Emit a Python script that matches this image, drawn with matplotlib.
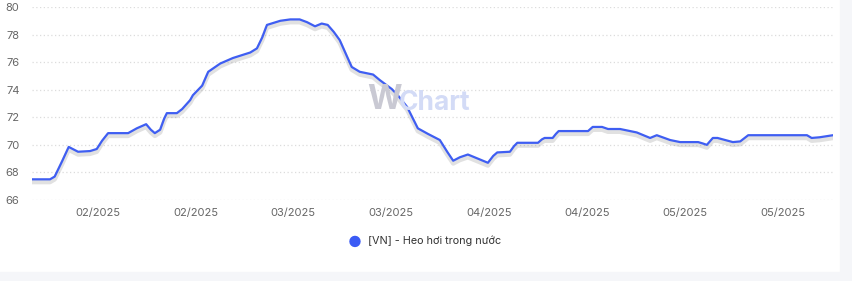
import matplotlib
matplotlib.use("Agg")
import matplotlib.pyplot as plt
import matplotlib.patheffects as pe
from matplotlib.patches import Rectangle

# Gia heo hoi (VN), x = day index
days = [0, 2.7, 3.4, 4.5, 5.5, 6.1, 6.9, 8.7, 9.7, 10.5, 11.4, 14.4, 15.7, 17.1, 17.8,
        18.4, 19.2, 19.8, 20.2, 21.7, 22.5, 23.7, 24.1, 25.5, 26.4, 28.2, 30.1, 32.7,
        33.7, 34.5, 35.2, 37.2, 38.7, 40.1, 41.2, 42.4, 43.4, 44.3, 45.2, 46.1, 47.2,
        47.9, 49.1, 51.1, 52.1, 53.9, 54.8, 56.2, 57.8, 59.3, 61.1, 62.2, 63.1, 64.1,
        65.3, 66.8, 68.3, 69.1, 69.7, 71.6, 72.2, 72.7, 75.8, 76.4, 76.8, 78.0, 78.5,
        78.9, 83.3, 84.0, 85.4, 86.3, 88.1, 90.6, 92.6, 93.6, 95.6, 97.1, 99.8, 100.5,
        101.1, 102.0, 102.7, 105.0, 106.1, 107.3, 116.1, 116.8, 118.0, 120.0]
prices = [67.5, 67.5, 67.7, 68.8, 69.85, 69.7, 69.5, 69.55, 69.7, 70.3, 70.85, 70.85,
          71.2, 71.5, 71.1, 70.85, 71.1, 71.9, 72.3, 72.3, 72.6, 73.25, 73.6, 74.3,
          75.3, 75.9, 76.3, 76.7, 77.0, 77.8, 78.7, 79.0, 79.1, 79.1, 78.9, 78.6, 78.8,
          78.7, 78.2, 77.6, 76.4, 75.65, 75.3, 75.1, 74.7, 74.05, 73.6, 72.75, 71.2,
          70.8, 70.35, 69.5, 68.85, 69.1, 69.3, 69.0, 68.7, 69.2, 69.45, 69.5, 69.9,
          70.15, 70.15, 70.4, 70.5, 70.5, 70.8, 71.0, 71.0, 71.3, 71.3, 71.15, 71.15,
          70.9, 70.5, 70.7, 70.35, 70.2, 70.2, 70.1, 70.0, 70.5, 70.5, 70.2, 70.25,
          70.7, 70.7, 70.5, 70.55, 70.7]

tick_pos = [9.9, 24.6, 39.1, 53.8, 68.5, 83.1, 97.8, 112.5]
tick_labels = ["02/2025", "02/2025", "03/2025", "03/2025",
               "04/2025", "04/2025", "05/2025", "05/2025"]
y_ticks = [66, 68, 70, 72, 74, 76, 78, 80]

plt.rcParams['font.family'] = ['Inter', 'DejaVu Sans']

fig = plt.figure(figsize=(8.52, 2.81), dpi=100)
fig.patch.set_facecolor("white")

# light grey page border right / bottom
fig.add_artist(Rectangle((840 / 852, 0), 12 / 852, 1, transform=fig.transFigure,
                         color="#f5f6f9", zorder=0))
fig.add_artist(Rectangle((0, 0), 1, 9 / 281, transform=fig.transFigure,
                         color="#f5f6f9", zorder=0))

ax = fig.add_axes([32 / 852, 1 - 200 / 281, 801 / 852, 193 / 281])
ax.set_facecolor("none")

ax.plot(days, prices, color="#3f5ef2", lw=1.6, solid_joinstyle="round",
        solid_capstyle="round", zorder=3,
        path_effects=[pe.SimpleLineShadow(offset=(0, -2), shadow_color="#777777",
                                          alpha=0.22, linewidth=3.2),
                      pe.Normal()])

ax.set_xlim(0, 120)
ax.set_ylim(66, 80)
ax.set_yticks(y_ticks)
ax.set_xticks(tick_pos)
ax.set_xticklabels(tick_labels)
ax.tick_params(axis="y", length=0, pad=9, labelsize=8, labelcolor="#666666")
ax.tick_params(axis="x", length=0, pad=6, labelsize=8, labelcolor="#666666")
ax.grid(axis="y", color="#dcdcdc", linestyle=(0, (1, 2)), linewidth=0.9)
ax.grid(axis="x", visible=False)
for s in ax.spines.values():
    s.set_visible(False)

# watermark
fig.text(402 / 852, 1 - 100 / 281, "W", fontsize=24, fontweight="bold", color="#c9c9d3",
         ha="right", va="center", zorder=1)
fig.text(399 / 852, 1 - 103 / 281, "Chart", fontsize=19, fontweight="bold",
         color="#d3dbf6", ha="left", va="center", zorder=1)

# legend
fig.text(355 / 852, 1 - 242 / 281, "\u25cf", fontsize=11, color="#3b5bf5",
         ha="center", va="center")
fig.text(368 / 852, 1 - 241 / 281, "[VN] - Heo hơi trong nước", fontsize=7.8,
         color="#333333", ha="left", va="center")

fig.savefig("out.png", dpi=100)
